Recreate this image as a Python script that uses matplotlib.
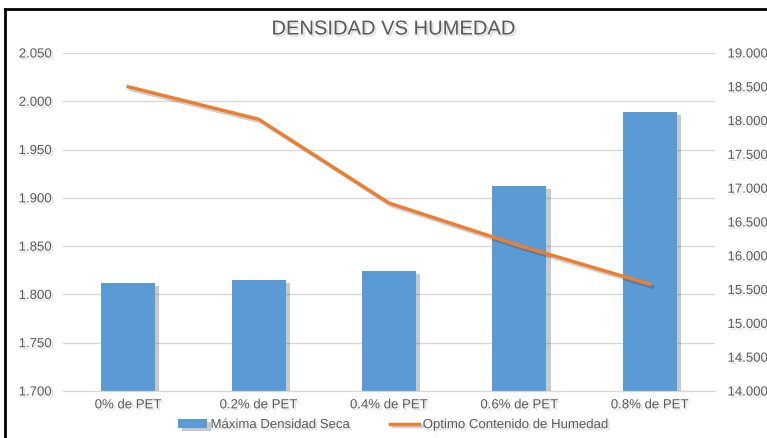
import matplotlib.pyplot as plt
import matplotlib.patheffects as pe
from matplotlib.lines import Line2D
from matplotlib.ticker import FuncFormatter

categorias = ['0% de PET', '0.2% de PET', '0.4% de PET', '0.6% de PET', '0.8% de PET']
densidad = [1.812, 1.815, 1.824, 1.912, 1.989]
humedad = [18.50, 18.02, 16.78, 16.15, 15.58]

plt.rcParams['font.family'] = ['Liberation Sans', 'DejaVu Sans']
gris = '#595959'
sombra_txt = [pe.withSimplePatchShadow(offset=(1.5, -1.5), shadow_rgbFace='#000000', alpha=0.12)]

fig = plt.figure(figsize=(7.67, 4.39), dpi=100)
ax = fig.add_axes([63 / 767, 1 - 392 / 439, 652 / 767, 338 / 439])
ax2 = ax.twinx()

x = range(len(categorias))
barras = ax.bar(x, densidad, width=0.414, color='#5B9BD5', zorder=2,
                label='Máxima Densidad Seca')
for b in barras:
    b.set_path_effects([pe.withSimplePatchShadow(offset=(3, -2), alpha=0.25)])

ax.set_ylim(1.700, 2.050)
ax.set_yticks([1.700 + 0.05 * i for i in range(8)])
ax.set_xlim(-0.5, len(categorias) - 0.5)
ax.set_xticks(list(x))
ax.set_xticklabels(categorias)
ax.yaxis.set_major_formatter(FuncFormatter(lambda v, p: f'{v:.3f}'))
ax.grid(axis='y', color='#d9d9d9', linewidth=1, zorder=0)
ax.set_axisbelow(True)

linea, = ax2.plot(list(x), humedad, color='#ED7D31', linewidth=2.5,
                  label='Optimo Contenido de Humedad', zorder=3,
                  path_effects=[pe.SimpleLineShadow(offset=(2, -2), alpha=0.18), pe.Normal()])
ax2.set_ylim(14.0, 19.0)
ax2.set_yticks([14.0 + 0.5 * i for i in range(11)])
ax2.yaxis.set_major_formatter(FuncFormatter(lambda v, p: f'{v:.3f}'))

for a in (ax, ax2):
    for s in ('top', 'left', 'right'):
        a.spines[s].set_visible(False)
    a.spines['bottom'].set_color('#d9d9d9')
    a.tick_params(length=0, labelsize=9.5, labelcolor=gris)
ax.tick_params(axis='y', pad=8)
ax2.tick_params(axis='y', pad=9)
ax.tick_params(axis='x', pad=6)
for t in ax.get_xticklabels() + ax.get_yticklabels() + ax2.get_yticklabels():
    t.set_path_effects(sombra_txt)

fig.text(393 / 767, 1 - 30 / 439, 'DENSIDAD VS HUMEDAD', ha='center', va='center',
         fontsize=14.5, color=gris, path_effects=sombra_txt)

leg = fig.legend([barras, linea], ['Máxima Densidad Seca', 'Optimo Contenido de Humedad'],
                 loc='center', bbox_to_anchor=(393 / 767, 1 - 426 / 439), ncol=2,
                 frameon=False, fontsize=9.5, handlelength=2.2, columnspacing=3,
                 handletextpad=0.3)
for t in leg.get_texts():
    t.set_color(gris)
    t.set_path_effects(sombra_txt)

# marco negro
fig.add_artist(Line2D([5 / 767, 5 / 767], [0, 1 - 10 / 439], color='black', linewidth=2))
fig.add_artist(Line2D([5 / 767, 1], [1 - 10 / 439, 1 - 10 / 439], color='black', linewidth=2))

fig.savefig('out.png', dpi=100)
